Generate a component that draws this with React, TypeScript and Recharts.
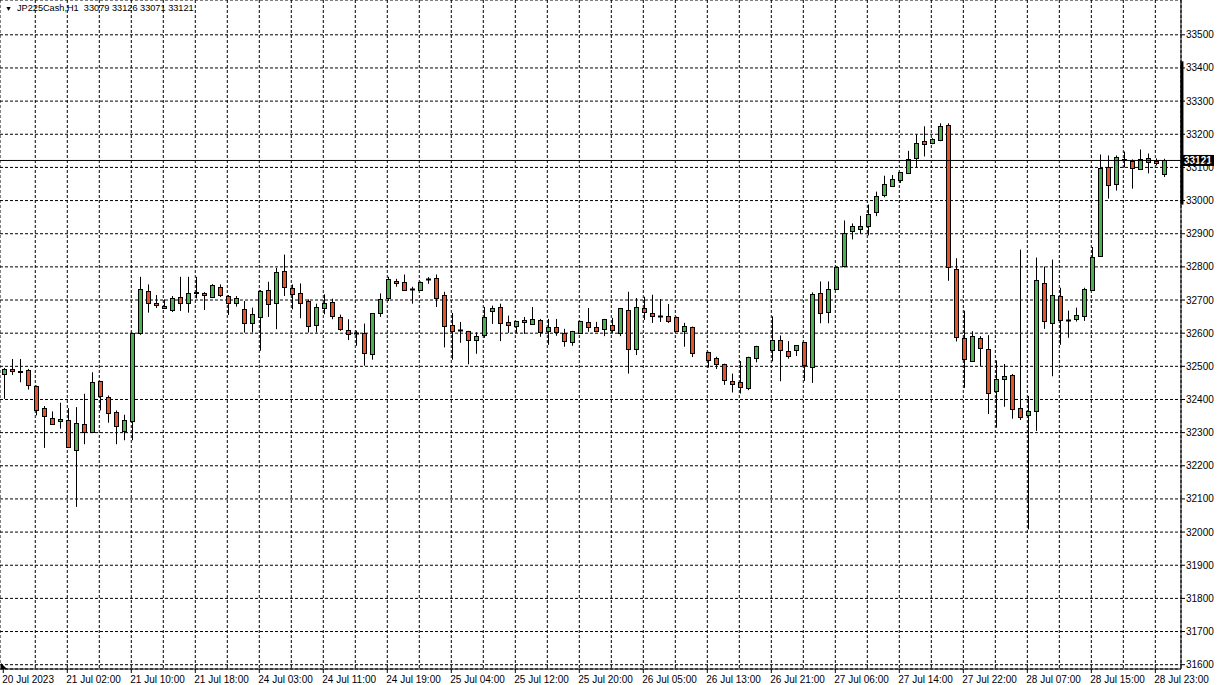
import { ComposedChart, Bar, XAxis, YAxis, CartesianGrid, ReferenceLine } from 'recharts';

// JP225Cash H1, one entry per hourly slot; null = no bar drawn in that slot
const OPEN = [
  32477, 32491, 32485, 32489, 32440, 32374, 32344, 32335, 32339, 32248, 32326, 32302, 32455, 32407, 32363, 32304,
  32335, 32602, 32728, 32692, 32683, 32670, 32710, 32692, 32724, 32722, 32710, 32740, 32713, 32692, 32674, 32632,
  32650, 32731, 32692, 32788, 32737, 32722, 32698, 32625, 32677, 32695, 32650, 32611, 32601, 32602, 32538, 32662,
  32707, 32758, 32755, 32733, 32730, 32762, 32767, 32716, 32625, 32611, 32607, 32580, 32596, 32667, 32679, 32634,
  32621, 32640, 32628, 32640, 32607, 32619, 32601, 32574, 32601, 32634, 32619, 32613, 32625, 32601, 32670, 32553,
  32676, 32661, 32653, 32652, 32649, 32607, 32619, null, 32544, 32524, 32508, 32456, 32454, 32436, 32526, null,
  32548, 32580, 32546, 32548, 32573, 32498, 32721, 32663, 32734, 32803, 32909, 32915, 32923, 32966, 33016, 33044,
  33062, 33083, 33128, 33179, 33173, 33182, 33227, 32795, 32585, 32516, 32585, 32552, 32426, 32462, 32474, 32375,
  32354, 32366, 32750, 32632, 32713, 32641, 32644, 32653, 32730, 32832, 33100, 33049, 33124, 33120, 33094, 33127,
  33118, 33079,
];
const HIGH = [
  32495, 32522, 32522, 32492, 32442, 32380, 32364, 32390, 32374, 32377, 32417, 32482, 32456, 32412, 32367, 32354,
  32601, 32770, 32747, 32715, 32702, 32712, 32770, 32770, 32770, 32724, 32748, 32747, 32715, 32712, 32697, 32677,
  32730, 32755, 32797, 32837, 32747, 32750, 32702, 32689, 32717, 32704, 32656, 32642, 32608, 32629, 32660, 32720,
  32770, 32764, 32777, 32740, 32756, 32769, 32777, 32725, 32661, 32634, 32607, 32603, 32679, 32683, 32689, 32653,
  32637, 32649, 32679, 32643, 32643, 32643, 32613, 32607, 32637, 32676, 32634, 32643, 32646, 32676, 32725, 32706,
  32710, 32716, 32703, 32688, 32650, 32631, 32620, null, 32544, 32529, 32508, 32478, 32516, 32529, 32562, null,
  32651, 32593, 32576, 32563, 32573, 32723, 32756, 32756, 32801, 32940, 32931, 32954, 32988, 33027, 33075, 33077,
  33086, 33150, 33200, 33224, 33188, 33233, 33233, 32826, 32668, 32606, 32591, 32594, 32518, 32507, 32477, 32852,
  32411, 32828, 32801, 32822, 32737, 32668, 32677, 32737, 32860, 33139, 33136, 33136, 33148, 33124, 33154, 33142,
  33127, 33126,
];
const LOW = [
  32402, 32474, 32452, 32430, 32352, 32254, 32325, 32312, 32256, 32076, 32265, 32300, 32367, 32330, 32265, 32277,
  32277, 32595, 32662, 32676, 32674, 32664, 32667, 32662, 32705, 32670, 32708, 32709, 32655, 32680, 32602, 32602,
  32547, 32649, 32612, 32712, 32672, 32645, 32602, 32602, 32657, 32642, 32607, 32579, 32562, 32502, 32520, 32649,
  32697, 32740, 32730, 32689, 32728, 32749, 32679, 32557, 32520, 32571, 32506, 32538, 32586, 32628, 32576, 32601,
  32601, 32598, 32628, 32589, 32565, 32592, 32559, 32562, 32598, 32604, 32604, 32591, 32601, 32591, 32478, 32534,
  32640, 32631, 32634, 32631, 32606, 32559, 32528, null, 32496, 32492, 32444, 32421, 32418, 32428, 32512, null,
  32515, 32455, 32523, 32531, 32456, 32450, 32630, 32630, 32734, 32798, 32883, 32899, 32895, 32953, 33010, 33044,
  33053, 33083, 33101, 33133, 33170, 33179, 32758, 32575, 32435, 32516, 32501, 32356, 32315, 32378, 32342, 32338,
  32008, 32305, 32613, 32470, 32565, 32586, 32635, 32637, 32730, 32830, 33006, 33030, 33100, 33036, 33094, 33082,
  33106, 33071,
];
const CLOSE = [
  32492, 32485, 32483, 32445, 32367, 32350, 32325, 32342, 32256, 32330, 32303, 32452, 32409, 32359, 32319, 32338,
  32600, 32732, 32692, 32686, 32677, 32707, 32692, 32722, 32722, 32715, 32746, 32715, 32692, 32706, 32632, 32659,
  32728, 32689, 32785, 32740, 32719, 32692, 32622, 32680, 32692, 32652, 32612, 32599, 32600, 32541, 32660, 32704,
  32762, 32752, 32730, 32733, 32755, 32762, 32707, 32622, 32607, 32609, 32580, 32592, 32649, 32676, 32631, 32625,
  32637, 32634, 32643, 32604, 32619, 32604, 32576, 32607, 32637, 32619, 32607, 32643, 32610, 32676, 32553, 32679,
  32664, 32652, 32652, 32637, 32607, 32622, 32541, null, 32520, 32506, 32459, 32448, 32438, 32529, 32562, null,
  32580, 32548, 32530, 32563, 32503, 32718, 32660, 32732, 32801, 32903, 32924, 32924, 32960, 33014, 33050, 33065,
  33086, 33125, 33173, 33170, 33185, 33224, 32801, 32588, 32522, 32591, 32555, 32420, 32462, 32471, 32372, 32348,
  32366, 32759, 32636, 32716, 32641, 32640, 32656, 32734, 32830, 33097, 33046, 33130, 33123, 33097, 33124, 33115,
  33112, 33121,
];

// one time label every 8 bars
const TIME_LABELS = [
  '20 Jul 2023', '21 Jul 02:00', '21 Jul 10:00', '21 Jul 18:00', '24 Jul 03:00', '24 Jul 11:00', '24 Jul 19:00',
  '25 Jul 04:00', '25 Jul 12:00', '25 Jul 20:00', '26 Jul 05:00', '26 Jul 13:00', '26 Jul 21:00', '27 Jul 06:00',
  '27 Jul 14:00', '27 Jul 22:00', '28 Jul 07:00', '28 Jul 15:00', '28 Jul 23:00',
];
const PRICE_TICKS = [
  31600, 31700, 31800, 31900, 32000, 32100, 32200, 32300, 32400, 32500, 32600, 32700, 32800, 32900, 33000, 33100,
  33200, 33300, 33400, 33500,
];
const LAST_PRICE = 33121;
const TITLE = 'JP225Cash,H1  33079 33126 33071 33121';
const SCALE_MARK = [33420, 32988];

const BULL = '#4caf50';
const BEAR = '#e2552b';
const FONT = '"Liberation Sans", Arial, sans-serif';

const X_DOMAIN: [number, number] = [-0.41, 147.21];
const Y_DOMAIN: [number, number] = [31587, 33605];

const data = OPEN.map((o, i) =>
  o == null ? null : { i, open: o, high: HIGH[i] as number, low: LOW[i] as number, close: CLOSE[i] as number }
).filter((d) => d != null);

const labelTicks = TIME_LABELS.map((_, k) => k * 8);
const gridTicks = Array.from({ length: 37 }, (_, k) => k * 4);

function Candle(props: any) {
  const { x, y, width, height, payload } = props;
  if (!payload || height == null) return null;
  const { open, high, low, close } = payload;
  const top = Math.min(y, y + height);
  const h = Math.abs(height);
  const cx = Math.round(x + width / 2) + 0.5;
  const k = h / (high - low || 1);
  const bTop = Math.round(top + (high - Math.max(open, close)) * k) + 0.5;
  const bBot = Math.round(top + (high - Math.min(open, close)) * k) + 0.5;
  const up = close >= open;
  return (
    <g>
      <line x1={cx} x2={cx} y1={top} y2={top + h} stroke="#000" strokeWidth={1} />
      {bBot - bTop < 1 ? (
        <line x1={cx - 2.5} x2={cx + 2.5} y1={bTop} y2={bTop} stroke="#000" strokeWidth={2} />
      ) : (
        <rect x={cx - 2} y={bTop} width={4} height={bBot - bTop} fill={up ? BULL : BEAR} stroke="#000" strokeWidth={1} />
      )}
    </g>
  );
}

function TimeTick({ x, y, payload }: any) {
  return (
    <text x={x - 1} y={y + 8} textAnchor="start" fontSize={10} fontFamily={FONT} fill="#000">
      {TIME_LABELS[payload.value / 8]}
    </text>
  );
}

function PriceTick({ x, y, payload }: any) {
  return (
    <text x={x - 1} y={y + 3.5} textAnchor="start" fontSize={10} fontFamily={FONT} fill="#000">
      {payload.value}
    </text>
  );
}

function PriceTag({ viewBox }: any) {
  const right = viewBox.x + viewBox.width;
  return (
    <g>
      <rect x={right + 1} y={viewBox.y - 5.5} width={32} height={11} fill="#000" />
      <text x={right + 3} y={viewBox.y + 3.5} fontSize={10} fontFamily={FONT} fill="#fff" fontWeight="bold">
        {LAST_PRICE}
      </text>
    </g>
  );
}

export default function App() {
  return (
    <div style={{ position: 'absolute', left: 0, top: 0, width: 1217, height: 685, background: '#fff' }}>
      <ComposedChart width={1217} height={685} data={data} margin={{ top: 0, right: 0, bottom: 0, left: 0 }}>
        <XAxis xAxisId="grid" type="number" dataKey="i" domain={X_DOMAIN} allowDataOverflow ticks={gridTicks} hide />
        <CartesianGrid xAxisId="grid" stroke="#000" strokeDasharray="3 2" />
        <XAxis
          type="number"
          dataKey="i"
          domain={X_DOMAIN}
          allowDataOverflow
          ticks={labelTicks}
          interval={0}
          height={16}
          tickSize={4}
          axisLine={{ stroke: '#000' }}
          tickLine={{ stroke: '#000' }}
          tick={<TimeTick />}
        />
        <YAxis
          orientation="right"
          domain={Y_DOMAIN}
          allowDataOverflow
          ticks={PRICE_TICKS}
          interval={0}
          width={36}
          tickSize={4}
          axisLine={{ stroke: '#000' }}
          tickLine={{ stroke: '#000' }}
          tick={<PriceTick />}
        />
        <Bar dataKey={(d: any) => [d.low, d.high]} barSize={5} shape={<Candle />} isAnimationActive={false} />
        <ReferenceLine y={LAST_PRICE} stroke="#000" strokeWidth={1} label={<PriceTag />} />
        <ReferenceLine
          segment={[
            { x: X_DOMAIN[1] + 0.12, y: SCALE_MARK[0] },
            { x: X_DOMAIN[1] + 0.12, y: SCALE_MARK[1] },
          ]}
          ifOverflow="visible"
          stroke="#000"
          strokeWidth={3}
        />
      </ComposedChart>
      <div
        style={{
          position: 'absolute',
          left: 5,
          top: 3,
          fontSize: 9.2,
          fontFamily: FONT,
          whiteSpace: 'pre',
          color: '#000',
          lineHeight: '11px',
        }}
      >
        <span style={{ fontSize: 7, marginRight: 5 }}>▼</span>
        {TITLE}
      </div>
      {/* chart shift marker in the lower-left corner */}
      <svg style={{ position: 'absolute', left: 0, top: 662 }} width={8} height={8}>
        <polygon points="1,1 7,7 1,7" fill="#000" />
      </svg>
    </div>
  );
}
